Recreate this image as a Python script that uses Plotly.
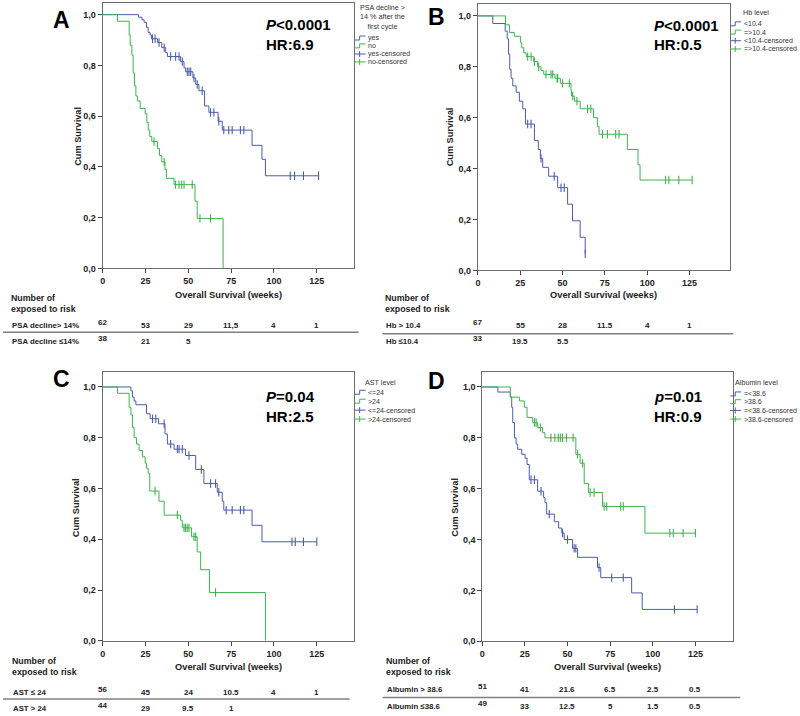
import plotly.graph_objects as go

W, H = 800, 716
BLUE = "#4b5cb0"
GREEN = "#3fb34f"
FONT = "Arial, 'Liberation Sans', sans-serif"

# ---------------- data ----------------
TIME_TICKS = [0, 25, 50, 75, 100, 125]
SURV_TICKS = [0, 0.2, 0.4, 0.6, 0.8, 1.0]
SURV_TICK_TEXT = ["0,0", "0,2", "0,4", "0,6", "0,8", "1,0"]

# Panel A : PSA decline > 14 % after the first cycle
A_yes_t = [20.9, 22.9, 24.2, 25.6, 26.6, 27.7, 28.5, 32.0, 34.5, 36.8, 37.8, 45.5, 47.5, 48.4,
           52.7, 54.3, 56.2, 59.5, 62.0, 67.4, 69.8, 87.2, 93.0, 95.0]
A_yes_s = [0.99, 0.98, 0.97, 0.95, 0.93, 0.92, 0.905, 0.89, 0.87, 0.85, 0.835, 0.815, 0.79, 0.775,
           0.75, 0.725, 0.70, 0.64, 0.615, 0.58, 0.545, 0.485, 0.43, 0.365]
A_yes_c = [29.1, 30.6, 32.9, 35.9, 39.7, 42.6, 44.6, 46.5, 49.4, 50.4, 51.4, 53.3, 55.2, 58.1,
           63.0, 64.9, 67.8, 70.7, 73.6, 75.6, 80.4, 82.4, 109.5, 112.0, 117.2, 126.0]
A_no_t = [8.7, 15.5, 16.1, 17.1, 17.8, 18.6, 19.4, 20.3, 21.9, 24.8, 25.8, 26.6, 27.5, 28.7,
          32.0, 33.2, 34.5, 36.4, 37.2, 41.7, 53.9, 55.2, 70.3]
A_no_s = [0.974, 0.92, 0.88, 0.84, 0.77, 0.72, 0.68, 0.66, 0.63, 0.61, 0.575, 0.545, 0.52, 0.50,
          0.472, 0.445, 0.42, 0.39, 0.355, 0.33, 0.265, 0.197, 0.0]
A_no_c = [30.0, 35.9, 42.6, 44.6, 46.1, 47.5, 52.3, 56.8, 63.0]

# Panel B : Hb level
B_lo_t = [8.8, 16.1, 17.3, 18.1, 18.8, 19.6, 20.6, 22.6, 24.5, 26.5, 28.1, 33.4, 35.7, 36.9,
          38.3, 41.8, 47.1, 53.0, 55.9, 60.4, 63.4]
B_lo_s = [0.97, 0.94, 0.91, 0.85, 0.79, 0.755, 0.725, 0.70, 0.665, 0.635, 0.575, 0.51, 0.475, 0.44,
          0.405, 0.37, 0.325, 0.26, 0.195, 0.13, 0.065]
B_lo_c = [29.4, 31.4, 37.3, 45.1, 49.1, 51.0, 63.4]
B_hi_t = [16.3, 18.6, 21.5, 25.1, 25.9, 27.1, 28.5, 33.0, 35.3, 37.3, 38.9, 45.5, 48.7, 55.0,
          55.3, 57.0, 60.4, 68.3, 70.6, 71.6, 88.3, 94.6, 95.8]
B_hi_s = [0.965, 0.935, 0.92, 0.895, 0.875, 0.855, 0.84, 0.82, 0.80, 0.785, 0.77, 0.755, 0.735, 0.705,
          0.685, 0.665, 0.635, 0.60, 0.565, 0.535, 0.475, 0.415, 0.355]
B_hi_c = [29.4, 31.4, 33.4, 35.9, 40.2, 43.2, 44.2, 46.8, 47.1, 50.0, 54.0, 56.0, 58.5, 64.8,
          66.7, 73.6, 76.5, 81.4, 83.4, 110.9, 112.8, 118.7, 126.6]

# Panel C : AST level
C_lo_t = [16.5, 17.4, 18.4, 19.4, 25.6, 27.7, 32.6, 36.4, 37.8, 41.7, 48.4, 54.3, 59.1, 66.9,
          69.8, 70.7, 87.2, 93.0]
C_lo_s = [0.985, 0.96, 0.945, 0.93, 0.895, 0.875, 0.855, 0.815, 0.775, 0.755, 0.73, 0.675, 0.62, 0.585,
          0.55, 0.515, 0.455, 0.39]
C_lo_c = [29.1, 31.0, 35.9, 39.7, 43.6, 44.6, 46.5, 50.4, 57.6, 63.0, 65.9, 67.8, 72.1, 75.6,
          80.4, 82.4, 110.5, 112.4, 117.2, 125.0]
C_hi_t = [8.7, 15.5, 16.5, 17.4, 18.4, 19.8, 21.3, 23.3, 24.8, 25.6, 26.6, 27.5, 32.9, 35.9,
          45.5, 46.5, 51.9, 55.2, 57.2, 62.4, 95.0]
C_hi_s = [0.975, 0.92, 0.89, 0.84, 0.80, 0.775, 0.75, 0.725, 0.70, 0.68, 0.66, 0.59, 0.55, 0.495,
          0.475, 0.445, 0.41, 0.35, 0.28, 0.19, 0.0]
C_hi_c = [30.6, 43.6, 47.5, 48.4, 49.4, 50.4, 53.3, 54.3, 65.9]

# Panel D : Albumin level
D_lo_t = [9.2, 16.5, 17.3, 17.9, 18.9, 19.9, 20.8, 23.2, 25.1, 26.3, 27.6, 32.5, 36.0, 36.8,
          37.8, 42.3, 44.8, 46.7, 48.1, 53.0, 55.9, 67.6, 69.5, 87.6, 93.8]
D_lo_s = [0.98, 0.96, 0.92, 0.86, 0.80, 0.775, 0.755, 0.735, 0.72, 0.695, 0.635, 0.59, 0.565, 0.545,
          0.50, 0.47, 0.445, 0.425, 0.40, 0.365, 0.33, 0.29, 0.25, 0.19, 0.125]
D_lo_c = [28.6, 30.6, 34.5, 39.3, 47.1, 50.0, 53.9, 54.9, 68.5, 75.9, 82.7, 112.7, 126.0]
D_hi_t = [16.5, 21.8, 24.7, 26.3, 29.6, 32.5, 35.4, 36.8, 54.9, 57.4, 59.8, 62.3, 70.5, 95.4]
D_hi_s = [0.96, 0.945, 0.92, 0.88, 0.86, 0.84, 0.82, 0.80, 0.735, 0.70, 0.62, 0.585, 0.53, 0.425]
D_hi_c = [30.6, 31.6, 34.1, 40.3, 42.6, 44.6, 45.8, 47.1, 49.4, 53.3, 55.9, 58.8, 63.3, 65.6,
          71.5, 73.0, 81.2, 82.7, 110.0, 112.0, 117.8, 125.0]

# Texts
A_stats = ["P", "<0.0001", "HR:6.9"]
B_stats = ["P", "<0.0001", "HR:0.5"]
C_stats = ["P", "=0.04", "HR:2.5"]
D_stats = ["p", "=0.01", "HR:0.9"]

A_legend_title = ["PSA decline >", "14 % after the", "first cycle"]
A_legend_items = ["yes", "no", "yes-censored", "no-censored"]
B_legend_title = ["Hb level"]
B_legend_items = ["<10.4", "=>10.4", "<10.4-censored", "=>10.4-censored"]
C_legend_title = ["AST level"]
C_legend_items = ["<=24", ">24", "<=24-censored", ">24-censored"]
D_legend_title = ["Albumin level"]
D_legend_items = ["=<38.6", ">38.6", "=<38.6-censored", ">38.6-censored"]

A_risk_labels = ["PSA decline> 14%", "PSA decline ≤14%"]
A_risk_row1 = ["62", "53", "29", "11,5", "4", "1"]
A_risk_row2 = ["38", "21", "5"]
B_risk_labels = ["Hb > 10.4", "Hb ≤10.4"]
B_risk_row1 = ["67", "55", "28", "11.5", "4", "1"]
B_risk_row2 = ["33", "19.5", "5.5"]
C_risk_labels = ["AST ≤ 24", "AST > 24"]
C_risk_row1 = ["56", "45", "24", "10.5", "4", "1"]
C_risk_row2 = ["44", "29", "9.5", "1"]
D_risk_labels = ["Albumin > 38.6", "Albumin ≤38.6"]
D_risk_row1 = ["51", "41", "21.6", "6.5", "2.5", "0.5"]
D_risk_row2 = ["49", "33", "12.5", "5", "1.5", "0.5"]

RISK_HEADER = ["Number of", "exposed to risk"]
X_TITLE = "Overall Survival (weeks)"
Y_TITLE = "Cum Survival"

# ---------------- layout helpers ----------------
def px(x):
    return x / W


def py(y):
    return 1 - y / H


panels = [
    dict(letter="A", n="", box=(100, 352, 3, 270.3), xmax=146.5, ymax=1.046,
         curves=[(A_yes_t, A_yes_s, A_yes_c, BLUE), (A_no_t, A_no_s, A_no_c, GREEN)],
         stats=A_stats, lt=A_legend_title, li=A_legend_items,
         rl=A_risk_labels, r1=A_risk_row1, r2=A_risk_row2,
         letter_xy=(58.5, 20), stat_x=262, stat_y=(24.5, 44.5),
         leg_x=353, leg_title_cx=381, leg_title_y=17, leg_item_y=[38.3, 46.2, 54.4, 62.4],
         ytitle_xy=(75, 137), xtitle_xy=(226, 297),
         tab_x=6, num_y=(300, 311), row_y=(327.3, 343.5), line=(0, 357, 334.7)),
    dict(letter="B", n="2", box=(476.7, 729.3, 3.7, 272.3), xmax=148.7, ymax=1.048,
         curves=[(B_lo_t, B_lo_s, B_lo_c, BLUE), (B_hi_t, B_hi_s, B_hi_c, GREEN)],
         stats=B_stats, lt=B_legend_title, li=B_legend_items,
         rl=B_risk_labels, r1=B_risk_row1, r2=B_risk_row2,
         letter_xy=(435, 17), stat_x=651, stat_y=(25.5, 44.5),
         leg_x=730, leg_title_cx=756, leg_title_y=12.5, leg_item_y=[24, 32.3, 41, 49.3],
         ytitle_xy=(449, 138), xtitle_xy=(603, 297),
         tab_x=381, num_y=(300, 311), row_y=(327.5, 344), line=(381, 733, 336)),
    dict(letter="C", n="3", box=(100, 352, 375, 645.3), xmax=146.5, ymax=1.0575,
         curves=[(C_lo_t, C_lo_s, C_lo_c, BLUE), (C_hi_t, C_hi_s, C_hi_c, GREEN)],
         stats=C_stats, lt=C_legend_title, li=C_legend_items,
         rl=C_risk_labels, r1=C_risk_row1, r2=C_risk_row2,
         letter_xy=(58.5, 382), stat_x=262, stat_y=(399, 419),
         leg_x=353, leg_title_cx=379, leg_title_y=385, leg_item_y=[395, 404, 413, 422],
         ytitle_xy=(74, 511), xtitle_xy=(226, 672),
         tab_x=7, num_y=(666, 677), row_y=(697, 713), line=(0, 348, 704)),
    dict(letter="D", n="4", box=(481, 732.7, 375, 645.7), xmax=147.0, ymax=1.0574,
         curves=[(D_lo_t, D_lo_s, D_lo_c, BLUE), (D_hi_t, D_hi_s, D_hi_c, GREEN)],
         stats=D_stats, lt=D_legend_title, li=D_legend_items,
         rl=D_risk_labels, r1=D_risk_row1, r2=D_risk_row2,
         letter_xy=(435, 384), stat_x=651, stat_y=(399, 419),
         leg_x=730, leg_title_cx=756, leg_title_y=385, leg_item_y=[396.7, 404.5, 413.3, 422],
         ytitle_xy=(454, 511), xtitle_xy=(607, 672),
         tab_x=382, num_y=(666, 677), row_y=(694.5, 711.5), line=(381, 740, 702.3)),
]


def surv_at(t, ev_t, ev_s):
    s = 1.0
    for et, es in zip(ev_t, ev_s):
        if et <= t:
            s = es
    return s


fig = go.Figure()
annotations = []
shapes = []
layout_axes = {}

for p in panels:
    n = p["n"]
    xa, ya = "x" + n, "y" + n
    x0, x1, y0, y1 = p["box"]
    layout_axes["xaxis" + n] = dict(
        domain=[px(x0), px(x1)], range=[0, p["xmax"]], anchor=ya,
        tickvals=TIME_TICKS, ticktext=[str(v) for v in TIME_TICKS],
        ticks="outside", ticklen=4, tickcolor="#444", tickwidth=1,
        showline=True, mirror=True, linecolor="#6e6e6e", linewidth=1,
        showgrid=False, zeroline=False,
        tickfont=dict(family=FONT, size=9, color="#222", weight="bold"))
    layout_axes["yaxis" + n] = dict(
        domain=[py(y1), py(y0)], range=[0, p["ymax"]], anchor=xa,
        tickvals=SURV_TICKS, ticktext=SURV_TICK_TEXT,
        ticks="outside", ticklen=4, tickcolor="#444", tickwidth=1,
        showline=True, mirror=True, linecolor="#6e6e6e", linewidth=1,
        showgrid=False, zeroline=False,
        tickfont=dict(family=FONT, size=9, color="#222", weight="bold"))

    for ev_t, ev_s, cens, col in p["curves"]:
        end = max(ev_t[-1], cens[-1]) if cens else ev_t[-1]
        xs = [0] + list(ev_t)
        ys = [1.0] + list(ev_s)
        if end > ev_t[-1]:
            xs.append(end)
            ys.append(ev_s[-1])
        fig.add_trace(go.Scatter(x=xs, y=ys, mode="lines", line=dict(color=col, width=1, shape="hv"),
                                 xaxis=xa, yaxis=ya, showlegend=False, hoverinfo="x+y"))
        cy = [surv_at(t, ev_t, ev_s) for t in cens]
        fig.add_trace(go.Scatter(x=cens, y=cy, mode="markers",
                                 marker=dict(symbol="line-ns-open", size=6, color=col,
                                             line=dict(color=col, width=1.1)),
                                 xaxis=xa, yaxis=ya, showlegend=False, hoverinfo="x+y"))

    # panel letter
    annotations.append(dict(text="<b>%s</b>" % p["letter"], x=px(p["letter_xy"][0]), y=py(p["letter_xy"][1]),
                            xref="paper", yref="paper", xanchor="center", yanchor="middle",
                            showarrow=False, font=dict(family=FONT, size=23, color="#000")))
    # stats
    st = p["stats"]
    annotations.append(dict(text="<b><i>%s</i>%s</b>" % (st[0], st[1]), x=px(p["stat_x"]), y=py(p["stat_y"][0]),
                            xref="paper", yref="paper", xanchor="left", yanchor="middle",
                            showarrow=False, font=dict(family=FONT, size=15, color="#000")))
    annotations.append(dict(text="<b>%s</b>" % st[2], x=px(p["stat_x"]), y=py(p["stat_y"][1]),
                            xref="paper", yref="paper", xanchor="left", yanchor="middle",
                            showarrow=False, font=dict(family=FONT, size=15, color="#000")))
    # legend
    annotations.append(dict(text="<br>".join(p["lt"]), x=px(p["leg_title_cx"]), y=py(p["leg_title_y"]),
                            xref="paper", yref="paper", xanchor="center", yanchor="middle", align="center",
                            showarrow=False, font=dict(family=FONT, size=7.2, color="#333")))
    lx0 = p["leg_x"]
    lx1 = lx0 + 11
    for i, (txt, yy) in enumerate(zip(p["li"], p["leg_item_y"])):
        col = BLUE if i % 2 == 0 else GREEN
        if i < 2:
            path = "M %f,%f L %f,%f L %f,%f L %f,%f" % (
                px(lx0), py(yy + 2), px(lx0 + 5), py(yy + 2), px(lx0 + 5), py(yy - 2), px(lx1), py(yy - 2))
            shapes.append(dict(type="path", path=path, xref="paper", yref="paper",
                               line=dict(color=col, width=1)))
        else:
            shapes.append(dict(type="line", x0=px(lx0), x1=px(lx1), y0=py(yy), y1=py(yy),
                               xref="paper", yref="paper", line=dict(color=col, width=1)))
            shapes.append(dict(type="line", x0=px(lx0 + 5), x1=px(lx0 + 5), y0=py(yy - 3), y1=py(yy + 3),
                               xref="paper", yref="paper", line=dict(color=col, width=1)))
        annotations.append(dict(text=txt, x=px(lx1 + 0.5), y=py(yy), xref="paper", yref="paper",
                                xanchor="left", yanchor="middle", showarrow=False,
                                font=dict(family=FONT, size=7, color="#333")))
    # axis titles
    annotations.append(dict(text="<b>%s</b>" % Y_TITLE, x=px(p["ytitle_xy"][0]), y=py(p["ytitle_xy"][1]),
                            xref="paper", yref="paper", xanchor="center", yanchor="middle", textangle=-90,
                            showarrow=False, font=dict(family=FONT, size=9.2, color="#222")))
    annotations.append(dict(text="<b>%s</b>" % X_TITLE, x=px(p["xtitle_xy"][0]), y=py(p["xtitle_xy"][1]),
                            xref="paper", yref="paper", xanchor="center", yanchor="middle",
                            showarrow=False, font=dict(family=FONT, size=9.3, color="#222")))
    # risk table
    for txt, yy in zip(RISK_HEADER, p["num_y"]):
        annotations.append(dict(text="<b>%s</b>" % txt, x=px(p["tab_x"]), y=py(yy), xref="paper", yref="paper",
                                xanchor="left", yanchor="middle", showarrow=False,
                                font=dict(family=FONT, size=8.8, color="#222")))
    for txt, yy in zip(p["rl"], p["row_y"]):
        annotations.append(dict(text="<b>%s</b>" % txt, x=px(p["tab_x"] + 1), y=py(yy), xref="paper", yref="paper",
                                xanchor="left", yanchor="middle", showarrow=False,
                                font=dict(family=FONT, size=7.8, color="#222")))
    for row, yy in ((p["r1"], p["row_y"][0]), (p["r2"], p["row_y"][1])):
        for j, val in enumerate(row):
            annotations.append(dict(text="<b>%s</b>" % val, x=TIME_TICKS[j], y=py(yy - (3 if j == 0 else 0)),
                                    xref=xa, yref="paper", xanchor="center", yanchor="middle",
                                    showarrow=False, font=dict(family=FONT, size=8, color="#222")))
    lx_a, lx_b, ly = p["line"]
    shapes.append(dict(type="line", x0=px(lx_a), x1=px(lx_b), y0=py(ly), y1=py(ly),
                       xref="paper", yref="paper", line=dict(color="#808080", width=1.5)))

fig.update_layout(
    width=W, height=H, margin=dict(l=0, r=0, t=0, b=0),
    paper_bgcolor="white", plot_bgcolor="white",
    showlegend=False, annotations=annotations, shapes=shapes,
    font=dict(family=FONT), **layout_axes)

fig.write_html("out.html", config={"displayModeBar": False},
               post_script="document.body.style.margin='0';document.body.style.overflow='hidden';")
